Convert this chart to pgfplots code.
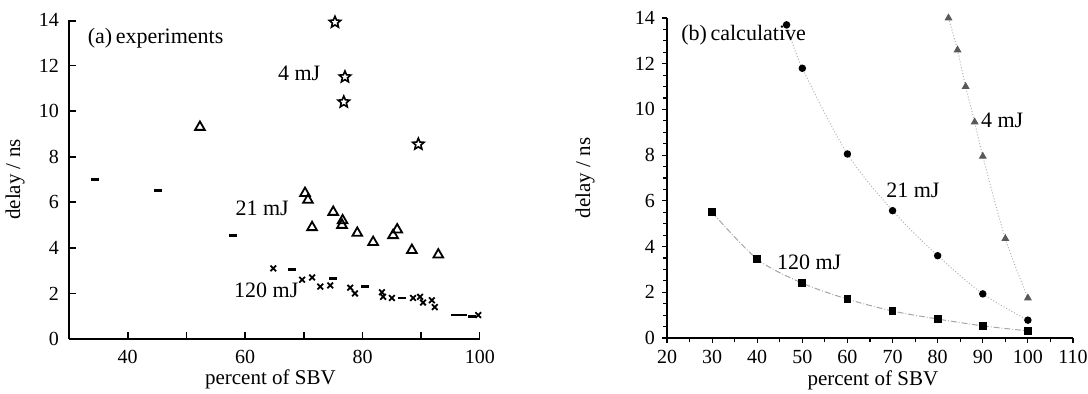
\documentclass[border=0pt]{standalone}
\usepackage{fontspec}
\setmainfont{Liberation Serif}
\usepackage{pgfplots}
\pgfplotsset{compat=1.18}
\usetikzlibrary{plotmarks}
\pgfdeclareplotmark{ostar}{%
  \pgfpathmoveto{\pgfqpointpolar{90}{\pgfplotmarksize}}%
  \pgfpathlineto{\pgfqpointpolar{126}{0.45\pgfplotmarksize}}%
  \pgfpathlineto{\pgfqpointpolar{162}{\pgfplotmarksize}}%
  \pgfpathlineto{\pgfqpointpolar{198}{0.45\pgfplotmarksize}}%
  \pgfpathlineto{\pgfqpointpolar{234}{\pgfplotmarksize}}%
  \pgfpathlineto{\pgfqpointpolar{270}{0.45\pgfplotmarksize}}%
  \pgfpathlineto{\pgfqpointpolar{306}{\pgfplotmarksize}}%
  \pgfpathlineto{\pgfqpointpolar{342}{0.45\pgfplotmarksize}}%
  \pgfpathlineto{\pgfqpointpolar{18}{\pgfplotmarksize}}%
  \pgfpathlineto{\pgfqpointpolar{54}{0.45\pgfplotmarksize}}%
  \pgfpathclose
  \pgfusepathqstroke}
\begin{document}
\begin{tikzpicture}
\useasboundingbox (0,0) rectangle (544pt,197pt);
% ---------------- (a) experiments ----------------
\begin{axis}[
  at={(34.5pt,27.5pt)}, anchor=south west,
  scale only axis, width=205.5pt, height=159.5pt,
  xmin=30, xmax=100, ymin=0, ymax=14,
  axis x line*=bottom, axis y line*=left,
  axis line style={-, line width=1pt},
  xtick={40,60,80,100},
  ytick={0,2,4,6,8,10,12,14},
  major tick length=0pt,
  /pgf/number format/assume math mode=true,
  tick label style={font=\fontsize{10}{12}\selectfont},
  label style={font=\fontsize{10.5}{12}\selectfont},
  xlabel={percent of SBV}, ylabel={delay / ns},
  xlabel style={at={(axis description cs:0.49,-0.128)}, anchor=center},
  ylabel style={at={(axis description cs:-0.131,0.5)}, anchor=center},
  xticklabel style={yshift=-2pt}, yticklabel style={xshift=-1.5pt},
]
% inward ticks (x: short combs up from the axis, y: short combs right of the axis)
\addplot[ycomb, black, line width=0.9pt, mark=none]
 coordinates {(40,0.32) (50,0.32) (60,0.32) (70,0.32) (80,0.32) (90,0.32) (100,0.32)};
\addplot[xcomb, black, line width=0.9pt, mark=none]
 coordinates {(31.2,2) (31.2,4) (31.2,6) (31.2,8) (31.2,10) (31.2,12) (31.2,13.96)};
% 4 mJ
\addplot[only marks, mark=ostar, mark size=3pt, mark options={line width=0.8pt, black}]
 coordinates {(75.3,13.9) (77.0,11.5) (76.8,10.4) (89.5,8.55)};
% 21 mJ
\addplot[only marks, mark=triangle, mark size=2.8pt, mark options={line width=0.9pt, black}]
 coordinates {(52.3,9.3) (70.2,6.4) (70.7,6.1) (75.0,5.57) (71.4,4.9) (76.5,5.0) (76.6,5.2)
 (79.1,4.65) (81.8,4.25) (85.2,4.55) (85.9,4.8) (88.4,3.9) (92.9,3.7)};
% 120 mJ
\addplot[only marks, mark=-, mark size=2pt, mark options={line width=1.4pt, black}]
 coordinates {(34.4,7.0) (45.2,6.5) (58.0,4.55) (68.0,3.05) (75.0,2.65) (80.4,2.3) (86.7,1.8)
 (95.8,1.05) (97.1,1.05) (98.6,1.0)};
\addplot[only marks, mark=x, mark size=2pt, mark options={line width=0.9pt, black}]
 coordinates {(64.8,3.1) (69.7,2.6) (71.4,2.7) (72.8,2.3) (74.5,2.35) (77.9,2.25) (78.7,2.0)
 (83.3,2.05) (83.5,1.85) (85.0,1.8) (88.6,1.8) (89.8,1.85) (90.3,1.6) (91.8,1.7) (92.3,1.4) (99.7,1.05)};
\node[anchor=west, font=\fontsize{11}{12}\selectfont] at (axis cs:32.0,13.2) {(a)\,experiments};
\node[font=\fontsize{11}{12}\selectfont] at (axis cs:69.2,11.67) {4 mJ};
\node[font=\fontsize{11}{12}\selectfont] at (axis cs:62.9,5.75) {21 mJ};
\node[font=\fontsize{11}{12}\selectfont] at (axis cs:63.6,2.15) {120 mJ};
\end{axis}
% ---------------- (b) calculative ----------------
\begin{axis}[
  at={(333.5pt,28pt)}, anchor=south west,
  scale only axis, width=203pt, height=160pt,
  xmin=20, xmax=110, ymin=0, ymax=14,
  axis x line*=bottom, axis y line*=left,
  axis line style={-, line width=0.7pt},
  xtick={20,30,...,110}, ytick={0,2,4,6,8,10,12,14},
  minor x tick num=1, minor y tick num=3,
  xtick align=outside, ytick align=outside,
  major tick length=2.5pt, minor tick length=1.8pt,
  tick style={black, line width=0.6pt},
  /pgf/number format/assume math mode=true,
  tick label style={font=\fontsize{10}{12}\selectfont},
  label style={font=\fontsize{10.5}{12}\selectfont},
  xlabel={percent of SBV}, ylabel={delay / ns},
  xlabel style={at={(axis description cs:0.507,-0.131)}, anchor=center},
  ylabel style={at={(axis description cs:-0.202,0.5)}, anchor=center},
]
% 120 mJ
\addplot[smooth, densely dashdotted, gray!70, line width=0.5pt, mark=square*, mark size=1.7pt,
  mark options={solid, black, fill=black}]
 coordinates {(30,5.5) (40,3.45) (50,2.4) (60,1.7) (70,1.18) (80,0.83) (90,0.53) (100,0.31)};
% 21 mJ
\addplot[smooth, densely dotted, gray!60, line width=0.5pt, mark=*, mark size=1.6pt,
  mark options={solid, black, fill=black}]
 coordinates {(46.5,13.7) (50,11.8) (60,8.05) (70,5.57) (80,3.6) (90,1.93) (100,0.78)};
% 4 mJ
\addplot[smooth, densely dotted, gray!60, line width=0.5pt, mark=triangle*, mark size=1.8pt,
  mark options={solid, gray!70!black, fill=gray!70!black}]
 coordinates {(82.4,14.0) (84.4,12.6) (86.2,11.0) (88.2,9.45) (90,7.95) (95,4.35) (100,1.75)};
\node[anchor=west, font=\fontsize{11}{12}\selectfont] at (axis cs:21.6,13.25) {(b)\,calculative};
\node[font=\fontsize{11}{12}\selectfont] at (axis cs:94.3,9.54) {4 mJ};
\node[font=\fontsize{11}{12}\selectfont] at (axis cs:74.5,6.47) {21 mJ};
\node[font=\fontsize{11}{12}\selectfont] at (axis cs:51.5,3.32) {120 mJ};
\end{axis}
\end{tikzpicture}
\end{document}
